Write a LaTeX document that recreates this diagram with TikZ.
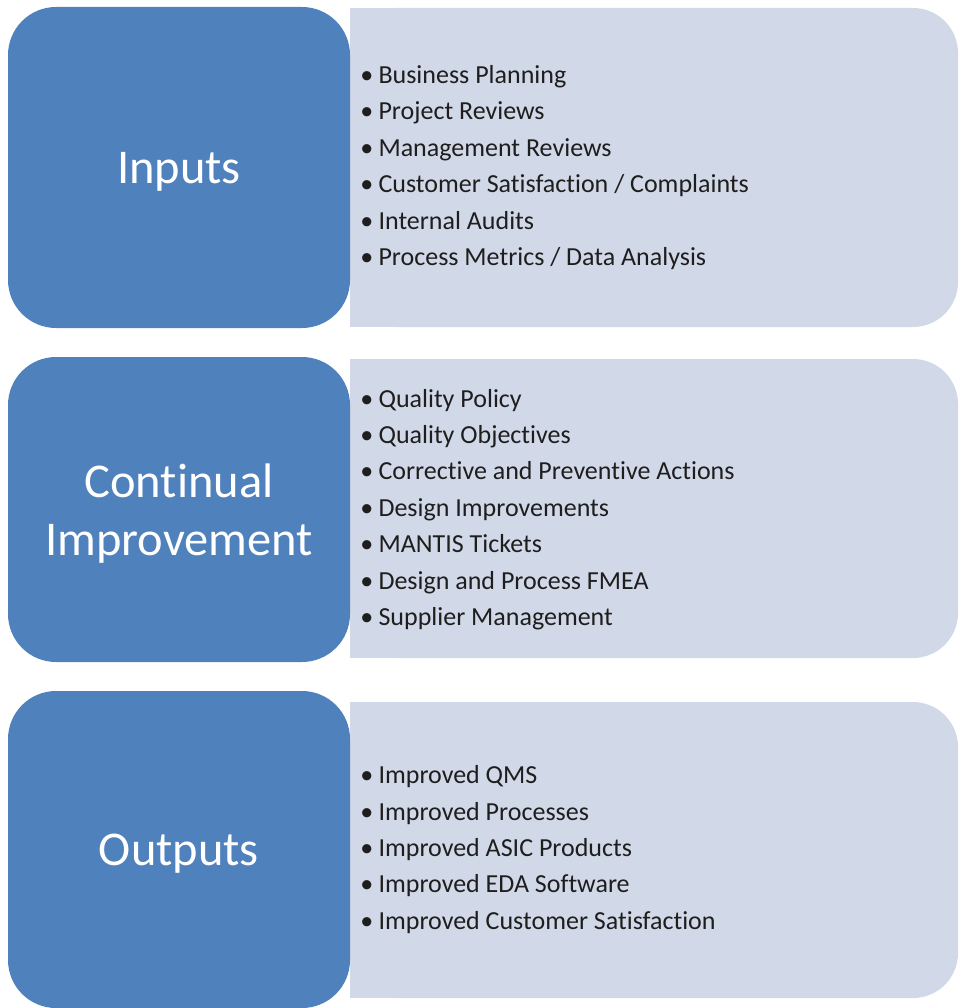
\documentclass[tikz,border=0pt]{standalone}
\usepackage{fontspec}
\setmainfont{Carlito}[Ligatures=NoCommon]
\usetikzlibrary{positioning}
\definecolor{stageblue}{RGB}{79,129,189}
\definecolor{panelgray}{RGB}{209,216,231}
\definecolor{itemtext}{RGB}{30,30,30}

\begin{document}
\begin{tikzpicture}[x=1pt, y=-1pt,
    stage/.style={fill=stageblue, rounded corners=48pt, minimum width=342pt, inner sep=0pt,
        text depth=0pt, text=white, align=center, font=\fontsize{48.5}{58}\selectfont},
    items/.style={right=10pt of #1, anchor=west, align=left, inner sep=0pt,
        text=itemtext, font=\fontsize{26}{36.4}\selectfont},
    panel/.style={fill=panelgray}]

    \useasboundingbox (0,0) rectangle (959,1008);

    % Grey panels: square on the left, rounded on the right
    \fill[panel, rounded corners=45pt] (350,8) rectangle (958,327);
    \fill[panel] (350,8) rectangle (600,327);
    \fill[panel, rounded corners=45pt] (350,359) rectangle (958,658);
    \fill[panel] (350,359) rectangle (600,658);
    \fill[panel, rounded corners=45pt] (350,702) rectangle (958,998);
    \fill[panel] (350,702) rectangle (600,998);

    % Blue stage boxes
    \node[stage, minimum height=321pt] (inputs) at (179,167.5) {Inputs};
    \node[stage, minimum height=305pt] (improve) at (179,509.5) {Continual\\Improvement};
    \node[stage, minimum height=317pt] (outputs) at (179,849.5) {Outputs};

    % Bullet lists
    \node[items=inputs] (inputlist) {%
        \textbullet\hspace{0.2em}Business Planning\\
        \textbullet\hspace{0.2em}Project Reviews\\
        \textbullet\hspace{0.2em}Management Reviews\\
        \textbullet\hspace{0.2em}Customer Satisfaction / Complaints\\
        \textbullet\hspace{0.2em}Internal Audits\\
        \textbullet\hspace{0.2em}Process Metrics / Data Analysis};
    \node[items=improve] (improvelist) {%
        \textbullet\hspace{0.2em}Quality Policy\\
        \textbullet\hspace{0.2em}Quality Objectives\\
        \textbullet\hspace{0.2em}Corrective and Preventive Actions\\
        \textbullet\hspace{0.2em}Design Improvements\\
        \textbullet\hspace{0.2em}MANTIS Tickets\\
        \textbullet\hspace{0.2em}Design and Process FMEA\\
        \textbullet\hspace{0.2em}Supplier Management};
    \node[items=outputs] (outputlist) {%
        \textbullet\hspace{0.2em}Improved QMS\\
        \textbullet\hspace{0.2em}Improved Processes\\
        \textbullet\hspace{0.2em}Improved ASIC Products\\
        \textbullet\hspace{0.2em}Improved EDA Software\\
        \textbullet\hspace{0.2em}Improved Customer Satisfaction};
\end{tikzpicture}
\end{document}
